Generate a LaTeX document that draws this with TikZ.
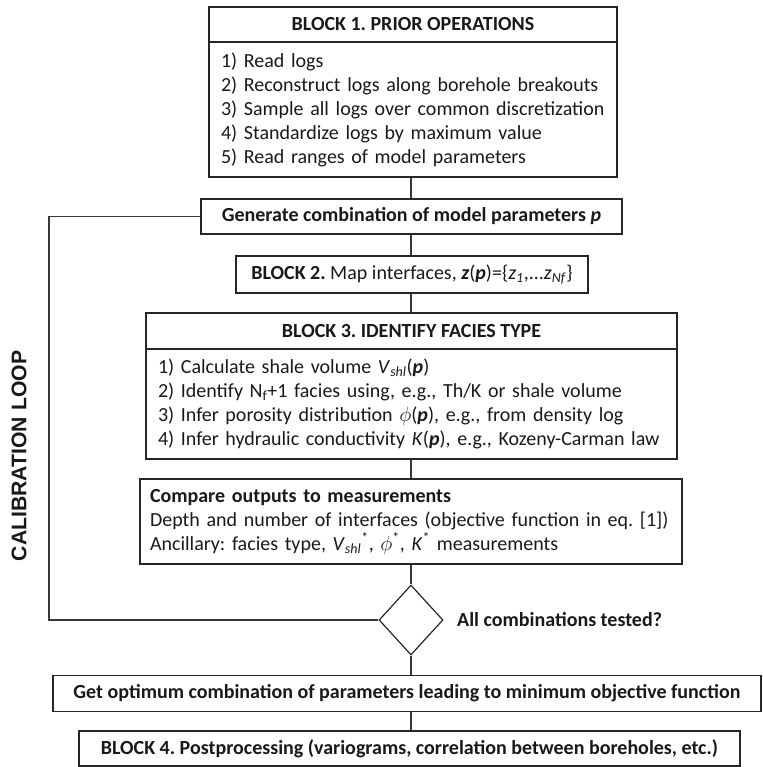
\documentclass[tikz,border=0pt]{standalone}
\usepackage{fontspec}
\setmainfont{Carlito}
\newfontfamily\arialfont{Liberation Sans}
\usetikzlibrary{shapes.geometric}
\frenchspacing
\tikzset{
  base/.style={draw=black!85, line width=1.2pt, font=\fontsize{20}{24}\selectfont, inner sep=0pt, text=black!90},
  cbox/.style={base, align=center},
  lbox/.style={base, align=left, inner xsep=#1, inner ysep=0pt},
  conn/.style={draw=black!78, line width=1.1pt},
}
\newcommand{\bip}{\textbf{\textit{p}}}
\begin{document}
\begin{tikzpicture}[x=1pt,y=-1pt]
\useasboundingbox (0,0) rectangle (762,767);
\coordinate (ax) at (411,0);
\coordinate (lc) at (49,0);
% Block 1
\node[cbox, minimum width=408, minimum height=35] (b1h) at (413,24.5) {\textbf{BLOCK 1. PRIOR OPERATIONS}};
\node[lbox=12pt, text width=384pt, minimum height=135] (b1b) at (413,109.5) {1) Read logs\\
2) Reconstruct logs along borehole breakouts\\
3) Sample all logs over common discretization\\
4) Standardize logs by maximum value\\
5) Read ranges of model parameters};
% Generate
\node[cbox, minimum width=421, minimum height=35] (gen) at (411.5,216.5) {\textbf{Generate combination of model parameters \textit{p}}};
% Block 2
\node[cbox, minimum width=352, minimum height=37] (b2) at (412,274.5) {\textbf{BLOCK 2.} Map interfaces, \textbf{\textit{z}}(\bip)=\{\textit{z}\textsubscript{\textit{1}},...\textit{z}\textsubscript{\textit{Nf}}\}};
% Block 3
\node[cbox, minimum width=531, minimum height=36] (b3h) at (411.5,331) {\textbf{BLOCK 3. IDENTIFY FACIES TYPE}};
\node[lbox=12pt, text width=507pt, minimum height=110] (b3b) at (411.5,404) {1) Calculate shale volume \textit{V}\textsubscript{\textit{shl}}(\bip)\\
2) Identify N\textsubscript{f}+1 facies using, e.g., Th/K or shale volume\\
3) Infer porosity distribution $\phi$(\bip), e.g., from density log\\
4) Infer hydraulic conductivity \textit{K}(\bip), e.g., Kozeny-Carman law};
% Compare
\node[lbox=10pt, text width=522pt, minimum height=85] (cmp) at (411,521.5) {\textbf{Compare outputs to measurements}\\
Depth and number of interfaces (objective function in eq. [1])\\
Ancillary: facies type, \textit{V}\textsubscript{\textit{shl}}\textsuperscript{*}, $\phi$\textsuperscript{*}, \textit{K}\textsuperscript{*} measurements};
% Decision
\node[base, shape=diamond, minimum width=64, minimum height=70] (dia) at (411,620) {};
\node[font=\fontsize{20}{24}\selectfont, anchor=west, inner sep=0pt, text=black!90] (lbl) at (457,620) {\textbf{All combinations tested?}};
% Optimum
\node[cbox, minimum width=708, minimum height=36] (opt) at (407,693.5) {\textbf{Get optimum combination of parameters leading to minimum objective function}};
% Block 4
\node[cbox, minimum width=661, minimum height=35] (b4) at (409.5,748.5) {\textbf{BLOCK 4. Postprocessing (variograms, correlation between boreholes, etc.)}};
% Loop label
\node[rotate=90, font=\arialfont\bfseries\fontsize{21.2}{24}\selectfont, inner sep=0pt, text=black!90] (loop) at (19,456) {CALIBRATION LOOP};
% Connectors
\draw[conn] (b1b.south -| ax) -- (gen.north -| ax);
\draw[conn] (gen.south -| ax) -- (b2.north -| ax);
\draw[conn] (b2.south -| ax) -- (b3h.north -| ax);
\draw[conn] (b3b.south -| ax) -- (cmp.north -| ax);
\draw[conn] (cmp.south -| ax) -- (dia.north);
\draw[conn] (dia.south) -- (opt.north -| dia.south);
\draw[conn] (opt.south -| ax) -- (b4.north -| ax);
\draw[conn] (dia.west) -- (dia.west -| lc) -- (gen.west -| lc) -- (gen.west);
\end{tikzpicture}
\end{document}
